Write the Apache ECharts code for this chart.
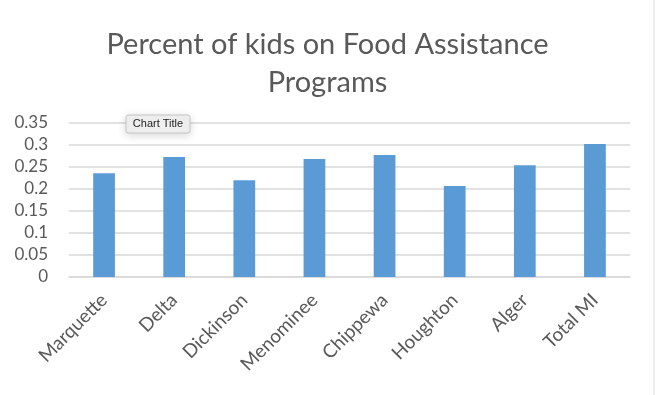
<!DOCTYPE html>
<html>
<head>
<meta charset="utf-8">
<script src="https://cdn.jsdelivr.net/npm/echarts@6/dist/echarts.min.js"></script>
<style>
html,body{margin:0;padding:0;background:#fff;}
#c{width:655px;height:395px;}
</style>
</head>
<body>
<div id="c"></div>
<script>
var categories = ["Marquette","Delta","Dickinson","Menominee","Chippewa","Houghton","Alger","Total MI"];
var values = [0.236, 0.273, 0.220, 0.268, 0.277, 0.207, 0.254, 0.302];
var yTicks = [0, 0.05, 0.1, 0.15, 0.2, 0.25, 0.3, 0.35];
var titleText = "Percent of kids on Food Assistance\nPrograms";
var tipText = "Chart Title";

var FONT = "Lato, 'Open Sans', sans-serif";
var chart = echarts.init(document.getElementById('c'), null, {renderer:'canvas'});
chart.setOption({
  animation:false,
  backgroundColor:'#ffffff',
  title:{
    text:titleText, left:'center', top:21,
    textStyle:{fontFamily:FONT, fontSize:29, fontWeight:'normal', color:'#595959', lineHeight:38}
  },
  grid:{left:69, right:25, top:123, bottom:118, containLabel:false},
  xAxis:{
    type:'category', data:categories,
    axisLine:{lineStyle:{color:'#d9d9d9', width:1.5}},
    axisTick:{show:false},
    axisLabel:{rotate:45, fontFamily:FONT, fontSize:19, color:'#595959', margin:20, interval:0}
  },
  yAxis:{
    type:'value', min:0, max:0.35, interval:0.05,
    axisLine:{show:false}, axisTick:{show:false},
    splitLine:{lineStyle:{color:'#d9d9d9', width:1.5}},
    axisLabel:{fontFamily:FONT, fontSize:17, color:'#595959', margin:21,
      formatter:function(v){ var i=yTicks.findIndex(function(t){return Math.abs(t-v)<1e-9;}); return i>=0?String(yTicks[i]):''; }}
  },
  series:[{type:'bar', data:values, barWidth:'31%', itemStyle:{color:'#5b9bd5'}}],
  graphic:[
    {type:'line', shape:{x1:654, y1:0, x2:654, y2:395}, style:{stroke:'#d9d9d9', lineWidth:1}},
    {type:'rect', shape:{x:126, y:115, width:64, height:18, r:2},
     style:{fill:'#f0f0f0', stroke:'#c6c6c6', lineWidth:1, shadowBlur:8, shadowColor:'rgba(0,0,0,0.15)', shadowOffsetY:2}, z:100},
    {type:'text', x:158, y:124, z:101,
     style:{text:tipText, fontFamily:"'Liberation Sans', Helvetica, Arial, sans-serif", fontSize:11, fill:'#222222', align:'center', verticalAlign:'middle'}}
  ]
});
</script>
</body>
</html>
